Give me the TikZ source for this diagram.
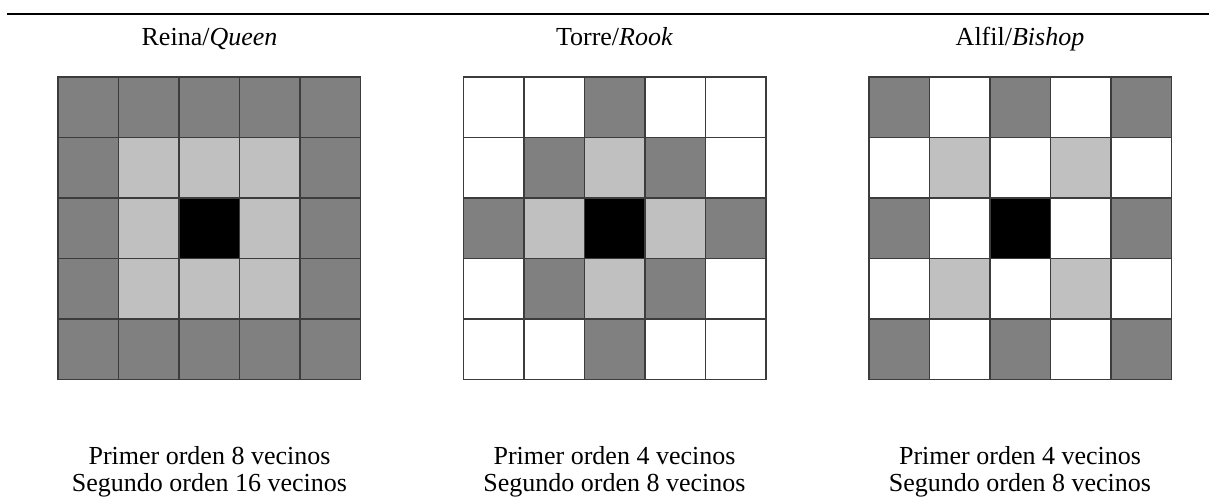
\documentclass[tikz,border=0pt]{standalone}
\usepackage{fontspec}
\setmainfont{Liberation Serif}
\definecolor{sqd}{RGB}{128,128,128}
\definecolor{sql}{RGB}{192,192,192}
\definecolor{sqk}{RGB}{0,0,0}
\definecolor{sqw}{RGB}{255,255,255}
\definecolor{sqline}{RGB}{60,60,60}
\usetikzlibrary{positioning}

% #1 left edge, #2 rows of cell colours (d dark, l light, k centre, w white)
\newcommand{\drawgrid}[2]{%
  \foreach \rowcols [count=\r from 0] in {#2} {
    \foreach \c [count=\k from 0] in \rowcols {
      \draw[cell, fill=sq\c] ({#1+\k*60.5},{77+\r*60.5}) rectangle +(60.5,60.5);
    }
  }
}

\begin{document}
\begin{tikzpicture}[x=1pt, y=-1pt,
  cell/.style={draw=sqline, line width=1.8pt},
  headtext/.style={font=\fontsize{26}{30}\selectfont, inner sep=0pt, anchor=base},
  notetext/.style={font=\fontsize{26}{30}\selectfont, inner sep=0pt, anchor=base}]
  \useasboundingbox (0,0) rectangle (1209,498);

  % top rule
  \coordinate (ruleL) at (7,14);
  \coordinate (ruleR) at (1209,14);
  \draw[line width=2pt] (ruleL) -- (ruleR);

  % titles
  \node[headtext] (queentitle) at (209.5,45) {Reina/\textit{Queen}};
  \node[headtext] (rooktitle) at (614.5,45) {Torre/\textit{Rook}};
  \node[headtext] (bishoptitle) at (1020,45) {Alfil/\textit{Bishop}};

  % grids
  \drawgrid{58}{{d,d,d,d,d},{d,l,l,l,d},{d,l,k,l,d},{d,l,l,l,d},{d,d,d,d,d}}
  \drawgrid{463.5}{{w,w,d,w,w},{w,d,l,d,w},{d,l,k,l,d},{w,d,l,d,w},{w,w,d,w,w}}
  \drawgrid{869}{{d,w,d,w,d},{w,l,w,l,w},{d,w,k,w,d},{w,l,w,l,w},{d,w,d,w,d}}

  % neighbour counts
  \node[notetext] (queenfirst) at (209.5,464) {Primer orden 8 vecinos};
  \node[notetext] (queensecond) at (209.5,491) {Segundo orden 16 vecinos};
  \node[notetext] (rookfirst) at (614.5,464) {Primer orden 4 vecinos};
  \node[notetext] (rooksecond) at (614.5,491) {Segundo orden 8 vecinos};
  \node[notetext] (bishopfirst) at (1020,464) {Primer orden 4 vecinos};
  \node[notetext] (bishopsecond) at (1020,491) {Segundo orden 8 vecinos};
\end{tikzpicture}
\end{document}
